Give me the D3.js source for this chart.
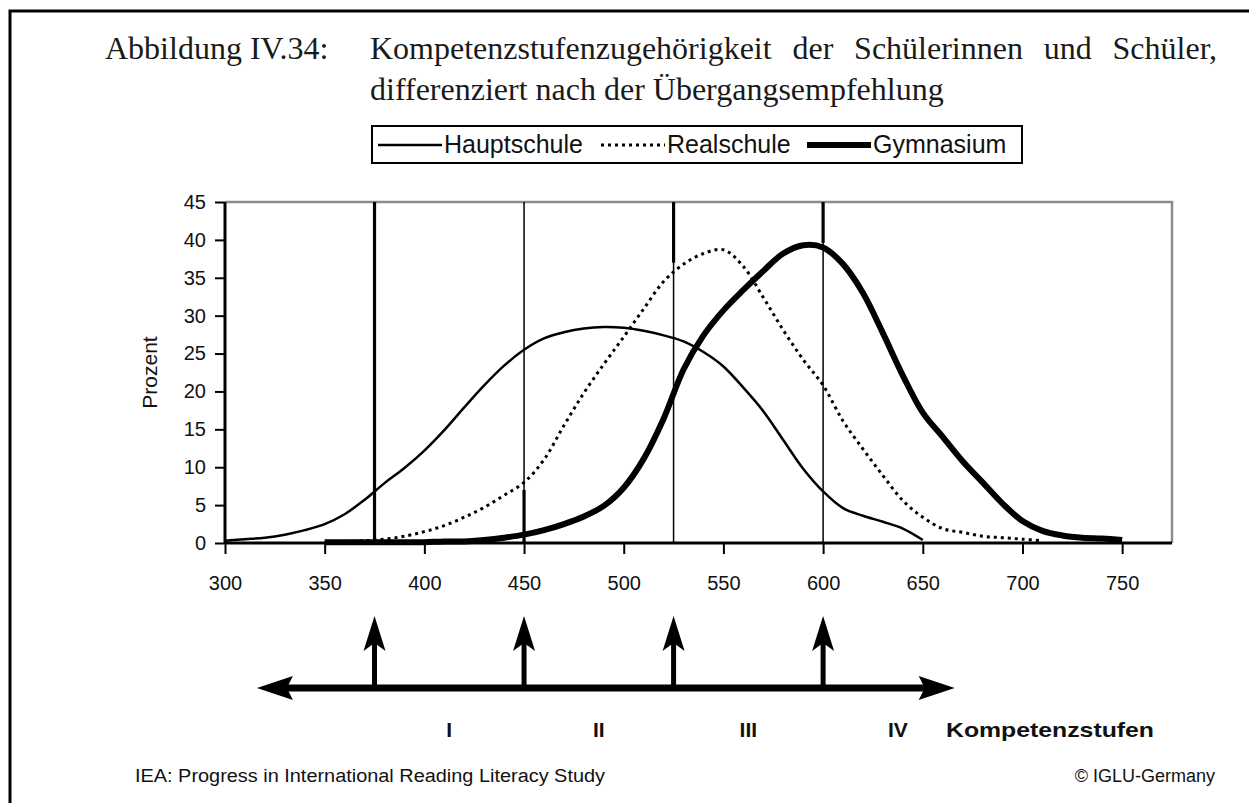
<!DOCTYPE html>
<html><head><meta charset="utf-8">
<script src="https://cdn.jsdelivr.net/npm/d3@7"></script>
<style>html,body{margin:0;padding:0;background:#fff;} svg{display:block}</style>
</head><body>
<svg id="c" width="1249" height="803"></svg>
<script>
const figureLabel = "Abbildung IV.34:";
const titleLines = ["Kompetenzstufenzugehörigkeit der Schülerinnen und Schüler,", "differenziert nach der Übergangsempfehlung"];
const seriesNames = ["Hauptschule", "Realschule", "Gymnasium"];
const scores = d3.range(300, 751, 10);
const hauptschule = [0.3,0.5,0.7,1.1,1.7,2.5,3.8,5.7,7.9,9.9,12.2,14.9,17.9,20.8,23.4,25.5,27.0,27.8,28.3,28.5,28.4,28.0,27.4,26.6,25.2,23.3,20.5,17.4,13.6,9.8,6.8,4.6,3.6,2.8,1.9,0.4,null,null,null,null,null,null,null,null,null,null];
const realschule = [null,null,null,null,null,0.1,0.2,0.3,0.5,0.9,1.5,2.3,3.4,4.7,6.3,8.0,11.0,15.5,19.8,23.6,27.2,30.9,34.5,36.8,38.2,38.7,36.5,32.4,28.1,24.2,20.8,16.1,12.4,8.9,5.6,3.4,1.9,1.4,0.9,0.7,0.5,0.3,null,null,null,null];
const gymnasium = [null,null,null,null,null,0.1,0.1,0.1,0.1,0.1,0.1,0.2,0.2,0.4,0.7,1.1,1.7,2.5,3.5,4.9,7.3,11.1,16.4,22.9,27.4,30.7,33.4,35.9,38.2,39.3,39.0,36.8,33.0,27.7,22.1,17.2,14.0,10.8,8.0,5.2,2.9,1.6,1.0,0.7,0.6,0.4];
const xTicks = [300,350,400,450,500,550,600,650,700,750];
const yTicks = [0,5,10,15,20,25,30,35,40,45];
const levelBounds = [375, 450, 525, 600];
// thick parts of the boundary lines: [score, from %, to %]
const boundaryThick = [[375,0,45],[450,0,7],[525,37,45],[600,39.6,45]];
const levelLabels = ["I","II","III","IV"];
const levelCenters = [412.5, 487.5, 562.5, 637.5];
const scaleArrowRange = [316, 666];
const levelAxisTitle = "Kompetenzstufen";
const yTitle = "Prozent";
const footLeft = "IEA: Progress in International Reading Literacy Study";
const footRight = "© IGLU-Germany";

const svg = d3.select("#c");
const SANS = "'Liberation Sans', Arial, sans-serif";
const SERIF = "'Liberation Serif', 'Times New Roman', serif";
const P = {l:225, r:1172, t:202, b:543};
const x = d3.scaleLinear().domain([300, 775]).range([P.l, P.r]);
const y = d3.scaleLinear().domain([0, 45]).range([P.b, P.t]);

// outer frame (left and top)
svg.append("path").attr("d", "M10,803 V11 H1249").attr("fill","none").attr("stroke","#000").attr("stroke-width",3);

// title
const tcol = "#1a1a1a";
svg.append("text").attr("x",105).attr("y",59).attr("font-family",SERIF).attr("font-size",32).attr("fill",tcol).text(figureLabel);
const t1 = svg.append("text").attr("x",370).attr("y",59).attr("font-family",SERIF).attr("font-size",32).attr("fill",tcol).text(titleLines[0]);
const w1 = t1.node().getComputedTextLength();
const nsp = titleLines[0].split(" ").length - 1;
if (w1 < 847) t1.attr("word-spacing", (847 - w1) / nsp);
svg.append("text").attr("x",370).attr("y",100).attr("font-family",SERIF).attr("font-size",32).attr("fill",tcol).text(titleLines[1]);

// legend
const lg = svg.append("g");
lg.append("rect").attr("x",372).attr("y",126).attr("width",650).attr("height",37).attr("fill","#fff").attr("stroke","#000").attr("stroke-width",2);
const legStyles = [{w:2.5,dash:null},{w:3,dash:"3,4"},{w:6,dash:null}];
const legX = [378, 601, 807];
seriesNames.forEach((n,i)=>{
  lg.append("line").attr("x1",legX[i]).attr("x2",legX[i]+64).attr("y1",145).attr("y2",145)
    .attr("stroke","#000").attr("stroke-width",legStyles[i].w).attr("stroke-dasharray",legStyles[i].dash);
  lg.append("text").attr("x",legX[i]+66).attr("y",153).attr("font-family",SANS).attr("font-size",25).attr("fill","#111").text(n);
});

// plot frame: top/right gray
svg.append("path").attr("d",`M${P.l},${P.t} H${P.r} V${P.b}`).attr("fill","none").attr("stroke","#8c8c8c").attr("stroke-width",2.5);

// boundary lines
svg.selectAll(".bnd").data(levelBounds).join("line").attr("class","bnd")
  .attr("x1",d=>x(d)).attr("x2",d=>x(d)).attr("y1",y(45)).attr("y2",y(0)).attr("stroke","#000").attr("stroke-width",1.5);
svg.selectAll(".bndT").data(boundaryThick).join("line").attr("class","bndT")
  .attr("x1",d=>x(d[0])).attr("x2",d=>x(d[0])).attr("y1",d=>y(d[2])).attr("y2",d=>y(d[1])).attr("stroke","#000").attr("stroke-width",3.2);

// series
const allSeries = [hauptschule, realschule, gymnasium];
const line = d3.line().defined(d=>d[1]!=null).x(d=>x(d[0])).y(d=>y(d[1])).curve(d3.curveCatmullRom.alpha(0.5));
allSeries.forEach((s,i)=>{
  const pts = scores.map((sc,j)=>[sc, s[j]]).filter(d=>d[1]!=null);
  svg.append("path").datum(pts).attr("d",line).attr("fill","none").attr("stroke","#000")
    .attr("stroke-width",legStyles[i].w).attr("stroke-dasharray",legStyles[i].dash)
    .attr("stroke-linejoin","round");
});

// axes
const xa = svg.append("g").attr("transform",`translate(0,${P.b})`)
  .call(d3.axisBottom(x).tickValues(xTicks).tickSize(11).tickPadding(24).tickSizeOuter(0));
xa.select(".domain").attr("stroke","#000").attr("stroke-width",3).attr("d",`M${P.l},0H${P.r}`);
xa.selectAll(".tick line").attr("stroke","#000").attr("stroke-width",2);
xa.selectAll(".tick text").attr("font-family",SANS).attr("font-size",20).attr("fill","#111").attr("dy","0.32em").attr("y",41);

const ya = svg.append("g").attr("transform",`translate(${P.l},0)`)
  .call(d3.axisLeft(y).tickValues(yTicks).tickSize(10).tickPadding(9).tickSizeOuter(0));
ya.select(".domain").attr("stroke","#000").attr("stroke-width",3).attr("d",`M0,${P.t}V${P.b}`);
ya.selectAll(".tick line").attr("stroke","#000").attr("stroke-width",2);
ya.selectAll(".tick text").attr("font-family",SANS).attr("font-size",20).attr("fill","#111");

svg.append("text").attr("transform",`translate(157,${(P.t+P.b)/2}) rotate(-90)`).attr("text-anchor","middle")
  .attr("font-family",SANS).attr("font-size",21).attr("fill","#111").text(yTitle);

// competence scale arrows
const ay = 688;
const ag = svg.append("g");
ag.append("line").attr("x1",x(scaleArrowRange[0])+20).attr("x2",x(scaleArrowRange[1])-20).attr("y1",ay).attr("y2",ay).attr("stroke","#000").attr("stroke-width",7);
const xl = x(scaleArrowRange[0]), xr = x(scaleArrowRange[1]);
ag.append("path").attr("d",`M${xl},${ay} L${xl+36},${ay-12} L${xl+30},${ay} L${xl+36},${ay+12} Z`).attr("fill","#000");
ag.append("path").attr("d",`M${xr},${ay} L${xr-36},${ay-12} L${xr-30},${ay} L${xr-36},${ay+12} Z`).attr("fill","#000");
levelBounds.forEach(b=>{
  const bx = x(b);
  ag.append("line").attr("x1",bx).attr("x2",bx).attr("y1",ay).attr("y2",640).attr("stroke","#000").attr("stroke-width",5);
  ag.append("path").attr("d",`M${bx},616 L${bx+11},651 L${bx},643 L${bx-11},651 Z`).attr("fill","#000");
});
levelLabels.forEach((l,i)=>{
  svg.append("text").attr("x",x(levelCenters[i])).attr("y",737).attr("text-anchor","middle")
    .attr("font-family",SANS).attr("font-weight","bold").attr("font-size",21).attr("fill","#111").text(l);
});
svg.append("text").attr("x",946).attr("y",737).attr("font-family",SANS).attr("font-weight","bold").attr("font-size",21)
  .attr("textLength",208).attr("lengthAdjust","spacingAndGlyphs").attr("fill","#111").text(levelAxisTitle);

// footer
svg.append("text").attr("x",135).attr("y",782).attr("font-family",SANS).attr("font-size",18)
  .attr("textLength",470).attr("lengthAdjust","spacingAndGlyphs").attr("fill","#111").text(footLeft);
svg.append("text").attr("x",1215).attr("y",782).attr("text-anchor","end").attr("font-family",SANS).attr("font-size",18).attr("fill","#111").text(footRight);
</script>
</body></html>
